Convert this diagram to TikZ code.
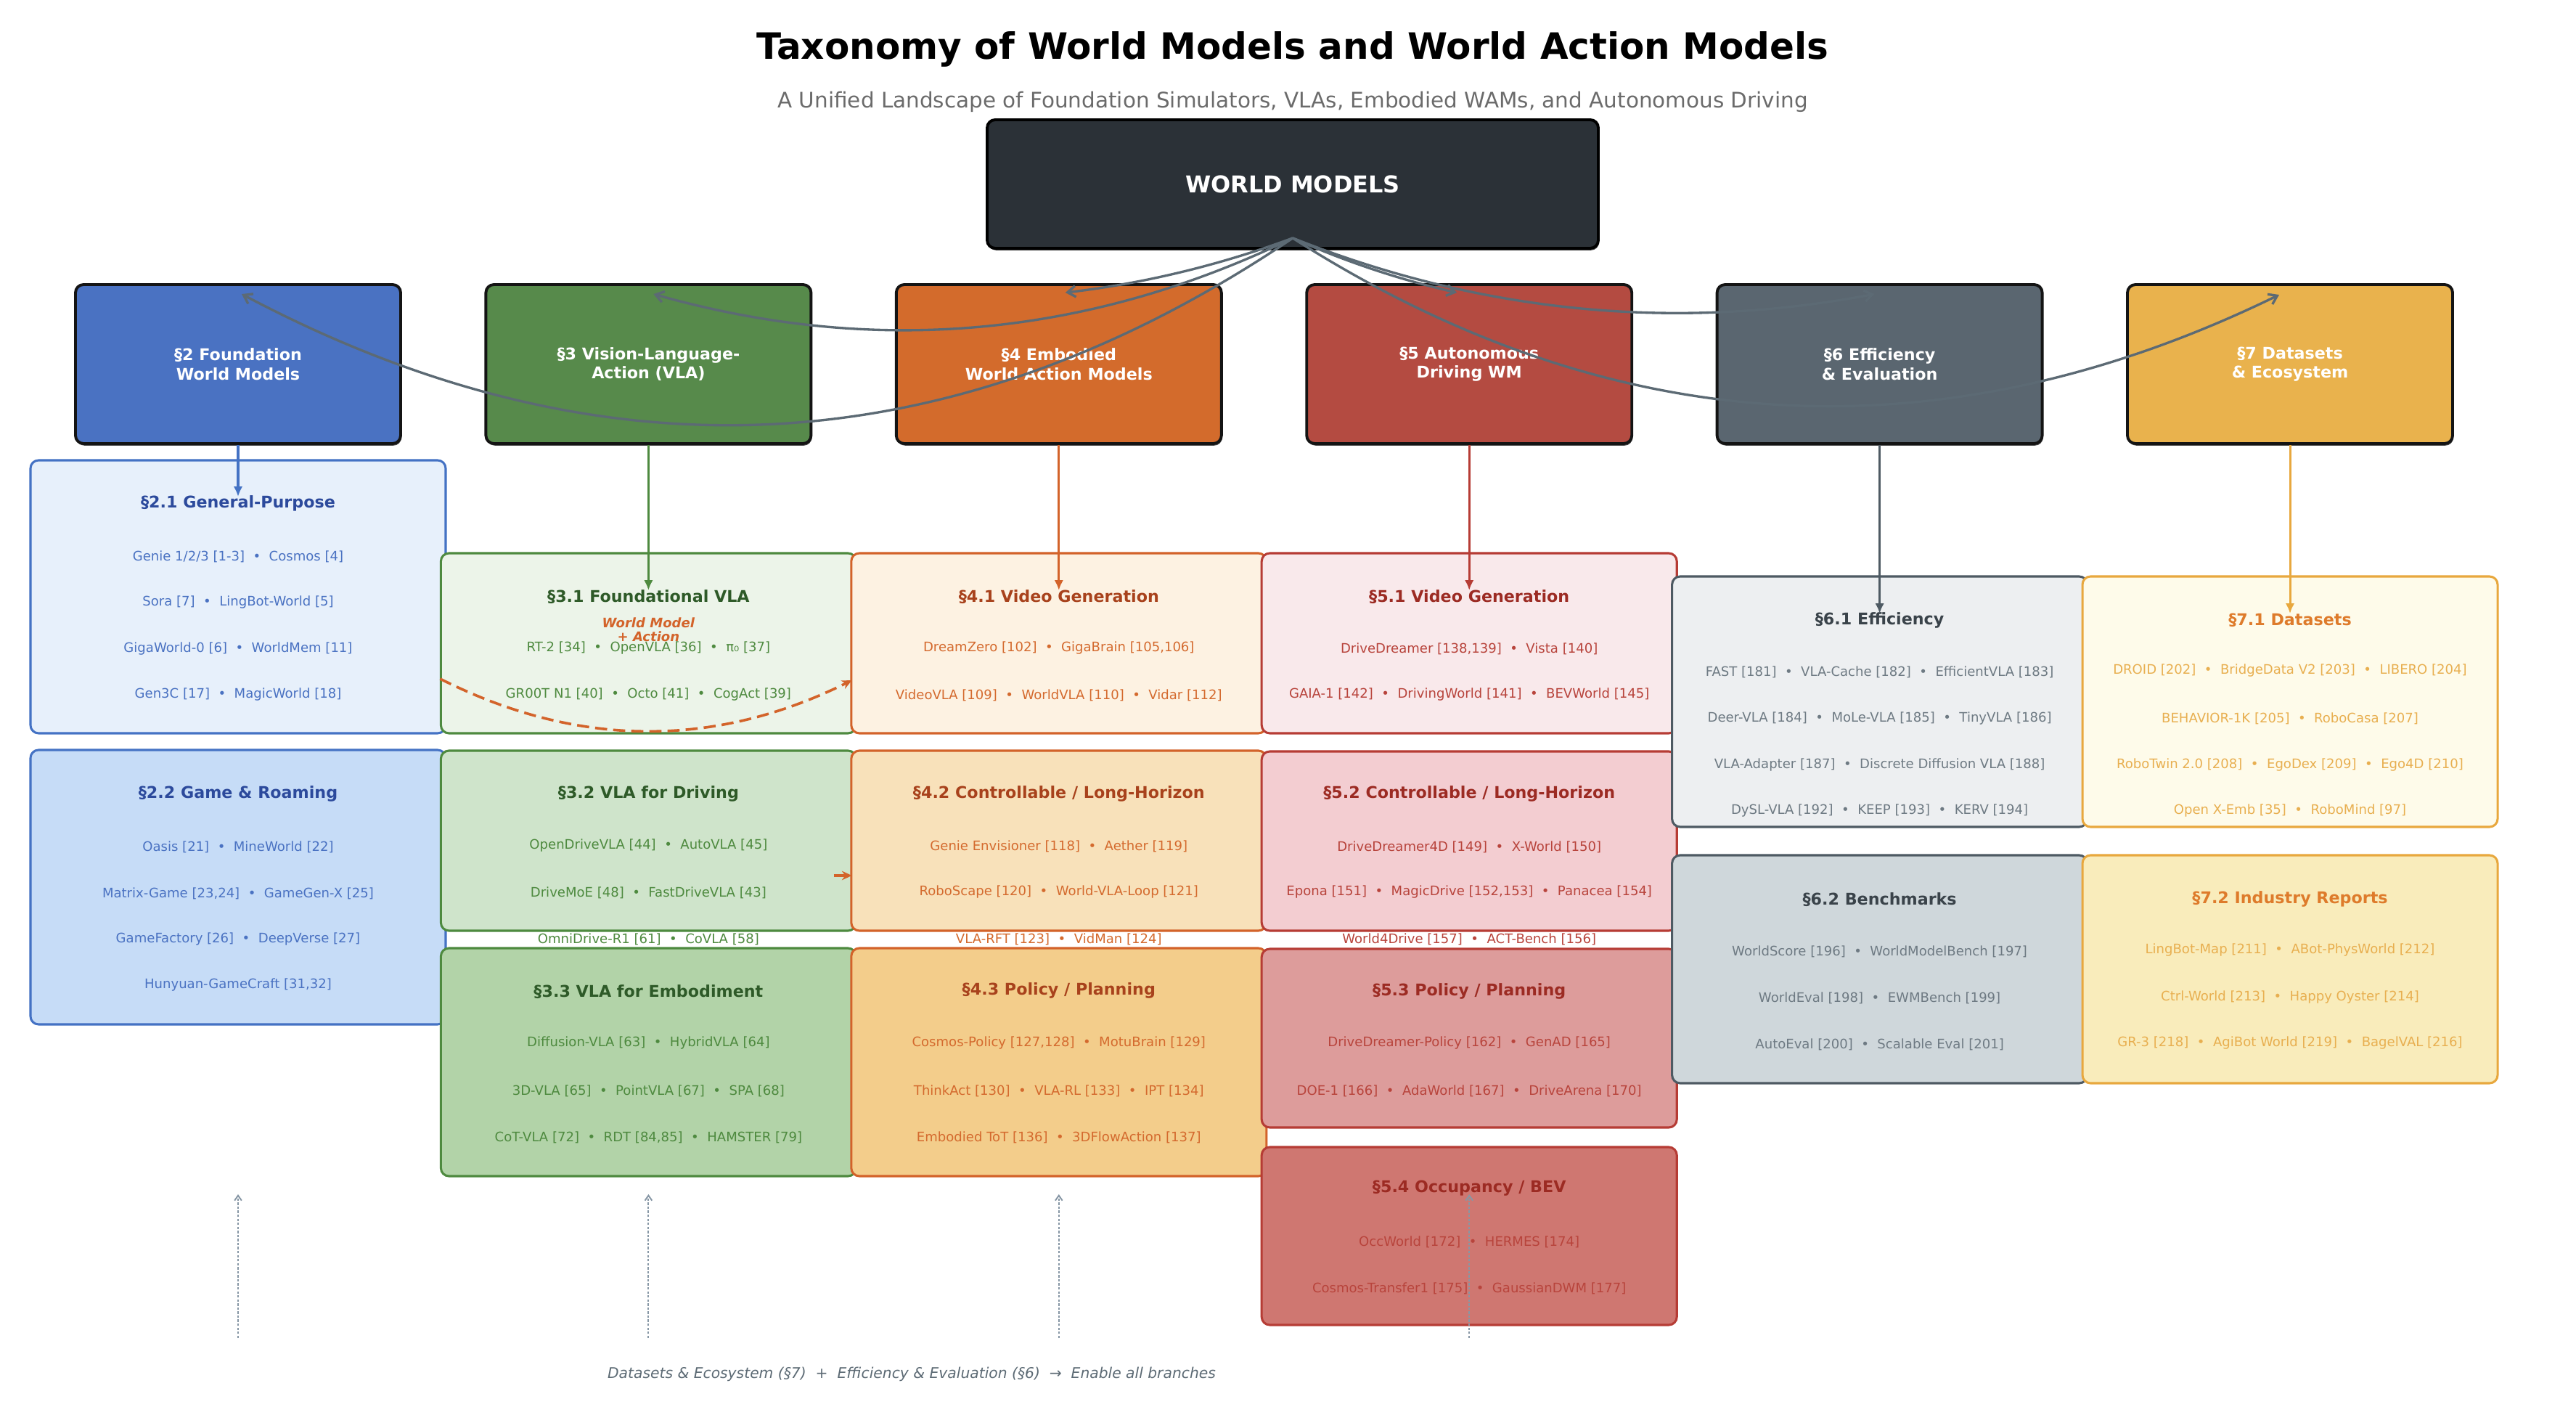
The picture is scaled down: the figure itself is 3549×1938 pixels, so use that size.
\documentclass[tikz,border=0pt]{standalone}
\usepackage{fontspec}
\setmainfont{DejaVu Sans}
\usetikzlibrary{arrows.meta,calc,shadows}
\definecolor{blueTop}{HTML}{4A72C2}\definecolor{blueBd}{HTML}{4472C4}
\definecolor{blueA}{HTML}{E7F0FB}\definecolor{blueB}{HTML}{C6DCF7}
\definecolor{blueT}{HTML}{2C4A9C}\definecolor{blueI}{HTML}{4A72C2}
\definecolor{grnTop}{HTML}{578A4B}\definecolor{grnBd}{HTML}{4E8A3F}
\definecolor{grnA}{HTML}{ECF4E9}\definecolor{grnB}{HTML}{CFE4CB}\definecolor{grnC}{HTML}{B2D3A8}
\definecolor{grnT}{HTML}{2E5A28}\definecolor{grnI}{HTML}{4E8A3F}
\definecolor{orgTop}{HTML}{D36B2C}\definecolor{orgBd}{HTML}{D3632A}
\definecolor{orgA}{HTML}{FDF2E2}\definecolor{orgB}{HTML}{F8E1BA}\definecolor{orgC}{HTML}{F3CD8B}
\definecolor{orgT}{HTML}{A8421C}\definecolor{orgI}{HTML}{D46A2E}
\definecolor{redTop}{HTML}{B44B41}\definecolor{redBd}{HTML}{B63C35}
\definecolor{redA}{HTML}{F9E9EB}\definecolor{redB}{HTML}{F3CDD1}\definecolor{redC}{HTML}{DD9C9B}\definecolor{redD}{HTML}{CF7771}
\definecolor{redT}{HTML}{9C2B23}\definecolor{redI}{HTML}{B8443C}
\definecolor{slTop}{HTML}{5A6670}\definecolor{slBd}{HTML}{4E5A63}
\definecolor{slA}{HTML}{EDEFF1}\definecolor{slB}{HTML}{CFD7DB}
\definecolor{slT}{HTML}{3A434A}\definecolor{slI}{HTML}{6E7A83}
\definecolor{gdTop}{HTML}{E9B24D}\definecolor{gdBd}{HTML}{E8A83E}
\definecolor{gdA}{HTML}{FEFBEA}\definecolor{gdB}{HTML}{F9ECBB}
\definecolor{gdT}{HTML}{DE7B2B}\definecolor{gdI}{HTML}{E8AF50}
\definecolor{wmFill}{HTML}{2B3137}
\definecolor{arrGrey}{HTML}{5C6A74}
\definecolor{subGrey}{HTML}{6B6B6B}
\definecolor{dashGrey}{HTML}{8797A5}
\newcommand{\sepdot}{\hspace{0.636em}•\hspace{0.636em}}
\newcommand{\mkbox}[6]{\node[subbox, fill=#5, draw=#6, minimum height={(#4-#3)*0.36pt}] (#1) at (#2,{(#3+#4)/2}) {};}
\newcommand{\itm}[5]{\node[sitem, text=#4] (#1) at (#2,#3) {#5};}
\newcommand{\ttl}[5]{\node[stitle, text=#4] (#1) at (#2,#3) {#5};}
\newcommand{\wmcurve}[3]{%
  \coordinate (m#1) at ($(src)!0.5!(#1)$);
  \coordinate (q#1) at ($(m#1)!#2!#3:(#1)$);
  \draw[wmline] (src) .. controls ($(src)!2/3!(q#1)$) and ($(#1)!2/3!(q#1)$) .. (#1);}
\def\cxa{328}\def\cxb{893.4}\def\cxc{1458.8}\def\cxd{2024.2}\def\cxe{2589.6}\def\cxf{3155}
\begin{document}
\begin{tikzpicture}[x=0.36pt,y=-0.36pt,
  topbox/.style={rounded corners=4pt, line width=1.4pt, draw=black!92, minimum width=448*0.36pt, minimum height=219*0.36pt, inner sep=0pt, text=white, font=\fontsize{8}{9.6}\selectfont\bfseries, align=center, drop shadow={shadow xshift=0.4pt, shadow yshift=-1pt, fill=black, opacity=0.7}},
  subbox/.style={rounded corners=4pt, line width=1.1pt, minimum width=572*0.36pt, inner sep=0pt, outer sep=0pt},
  stitle/.style={font=\fontsize{8}{9.6}\selectfont\bfseries, inner sep=0pt},
  sitem/.style={font=\fontsize{6.5}{7.8}\selectfont, inner sep=0pt},
  colarr/.style={line width=1.1pt, -{Latex[length=5pt,width=4.5pt]}},
  wmline/.style={draw=arrGrey, line width=1.2pt, -{Straight Barb[length=4pt,width=5.5pt]}},
  wmdash/.style={draw=orgBd, line width=1.3pt, dash pattern=on 6pt off 3pt, -{Stealth[length=5pt,width=4.5pt]}},
  botarr/.style={draw=dashGrey, line width=0.7pt, dash pattern=on 1.2pt off 0.8pt, -{Straight Barb[length=2.5pt,width=3.5pt]}}
]
\useasboundingbox (0,0) rectangle (3549,1938);
\fill[white] (0,0) rectangle (3549,1938);
% titles
\node[font=\fontsize{18}{21.6}\selectfont\bfseries, inner sep=0pt] (title) at (1781,68) {Taxonomy of World Models and World Action Models};
\node[font=\fontsize{10.6}{12.7}\selectfont, text=subGrey, inner sep=0pt] (subtitle) at (1781,140) {A Unified Landscape of Foundation Simulators, VLAs, Embodied WAMs, and Autonomous Driving};
% root
\node[rounded corners=4pt, line width=1.4pt, draw=black, fill=wmFill, minimum width=842*0.36pt, minimum height=177*0.36pt, inner sep=0pt, text=white, font=\fontsize{11.5}{13.8}\selectfont\bfseries, drop shadow={shadow xshift=0.4pt, shadow yshift=-1pt, fill=black, opacity=0.7}] (wm) at (1781,253.5) {WORLD MODELS};
% top boxes
\node[topbox, fill=blueTop] (b2) at (\cxa,501.5) {§2 Foundation\\World Models};
\node[topbox, fill=grnTop] (b3) at (\cxb,501.5) {§3 Vision-Language-\\Action (VLA)};
\node[topbox, fill=orgTop] (b4) at (\cxc,501.5) {§4 Embodied\\World Action Models};
\node[topbox, fill=redTop] (b5) at (\cxd,501.5) {§5 Autonomous\\Driving WM};
\node[topbox, fill=slTop] (b6) at (\cxe,501.5) {§6 Efficiency\\\& Evaluation};
\node[topbox, fill=gdTop] (b7) at (\cxf,501.5) {§7 Datasets\\\& Ecosystem};
% column 1
\mkbox{s21}{\cxa}{634}{1010}{blueA}{blueBd}
\ttl{t21}{\cxa}{693}{blueT}{§2.1 General-Purpose}
\itm{i21a}{\cxa}{767}{blueI}{Genie 1/2/3 [1-3]\sepdot Cosmos [4]}
\itm{i21b}{\cxa}{830}{blueI}{Sora [7]\sepdot LingBot-World [5]}
\itm{i21c}{\cxa}{894}{blueI}{GigaWorld-0 [6]\sepdot WorldMem [11]}
\itm{i21d}{\cxa}{957}{blueI}{Gen3C [17]\sepdot MagicWorld [18]}
\mkbox{s22}{\cxa}{1033}{1411}{blueB}{blueBd}
\ttl{t22}{\cxa}{1093}{blueT}{§2.2 Game \& Roaming}
\itm{i22a}{\cxa}{1167}{blueI}{Oasis [21]\sepdot MineWorld [22]}
\itm{i22b}{\cxa}{1231}{blueI}{Matrix-Game [23,24]\sepdot GameGen-X [25]}
\itm{i22c}{\cxa}{1294}{blueI}{GameFactory [26]\sepdot DeepVerse [27]}
\itm{i22d}{\cxa}{1357}{blueI}{Hunyuan-GameCraft [31,32]}
% column 2
\mkbox{s31}{\cxb}{762}{1010}{grnA}{grnBd}
\ttl{t31}{\cxb}{822}{grnT}{§3.1 Foundational VLA}
\node[font=\fontsize{6.5}{6.9}\selectfont\bfseries\itshape, text=orgBd, align=center, inner sep=0pt] (wmlbl) at (\cxb,867.5) {World Model\\+ Action};
\itm{i31a}{\cxb}{893}{grnI}{RT-2 [34]\sepdot OpenVLA [36]\sepdot π₀ [37]}
\itm{i31b}{\cxb}{957}{grnI}{GR00T N1 [40]\sepdot Octo [41]\sepdot CogAct [39]}
\mkbox{s32}{\cxb}{1034}{1282}{grnB}{grnBd}
\ttl{t32}{\cxb}{1093}{grnT}{§3.2 VLA for Driving}
\itm{i32a}{\cxb}{1165}{grnI}{OpenDriveVLA [44]\sepdot AutoVLA [45]}
\itm{i32b}{\cxb}{1230}{grnI}{DriveMoE [48]\sepdot FastDriveVLA [43]}
\itm{i32c}{\cxb}{1294}{grnI}{OmniDrive-R1 [61]\sepdot CoVLA [58]}
\mkbox{s33}{\cxb}{1306}{1620}{grnC}{grnBd}
\ttl{t33}{\cxb}{1366}{grnT}{§3.3 VLA for Embodiment}
\itm{i33a}{\cxb}{1437}{grnI}{Diffusion-VLA [63]\sepdot HybridVLA [64]}
\itm{i33b}{\cxb}{1503}{grnI}{3D-VLA [65]\sepdot PointVLA [67]\sepdot SPA [68]}
\itm{i33c}{\cxb}{1567}{grnI}{CoT-VLA [72]\sepdot RDT [84,85]\sepdot HAMSTER [79]}
% column 3
\mkbox{s41}{\cxc}{762}{1010}{orgA}{orgBd}
\ttl{t41}{\cxc}{822}{orgT}{§4.1 Video Generation}
\itm{i41a}{\cxc}{893}{orgI}{DreamZero [102]\sepdot GigaBrain [105,106]}
\itm{i41b}{\cxc}{958}{orgI}{VideoVLA [109]\sepdot WorldVLA [110]\sepdot Vidar [112]}
\mkbox{s42}{\cxc}{1034}{1282}{orgB}{orgBd}
\ttl{t42}{\cxc}{1093}{orgT}{§4.2 Controllable / Long-Horizon}
\itm{i42a}{\cxc}{1166}{orgI}{Genie Envisioner [118]\sepdot Aether [119]}
\itm{i42b}{\cxc}{1229}{orgI}{RoboScape [120]\sepdot World-VLA-Loop [121]}
\itm{i42c}{\cxc}{1294}{orgI}{VLA-RFT [123]\sepdot VidMan [124]}
\mkbox{s43}{\cxc}{1306}{1620}{orgC}{orgBd}
\ttl{t43}{\cxc}{1364}{orgT}{§4.3 Policy / Planning}
\itm{i43a}{\cxc}{1437}{orgI}{Cosmos-Policy [127,128]\sepdot MotuBrain [129]}
\itm{i43b}{\cxc}{1503}{orgI}{ThinkAct [130]\sepdot VLA-RL [133]\sepdot IPT [134]}
\itm{i43c}{\cxc}{1567}{orgI}{Embodied ToT [136]\sepdot 3DFlowAction [137]}
% column 4
\mkbox{s51}{\cxd}{762}{1010}{redA}{redBd}
\ttl{t51}{\cxd}{822}{redT}{§5.1 Video Generation}
\itm{i51a}{\cxd}{894}{redI}{DriveDreamer [138,139]\sepdot Vista [140]}
\itm{i51b}{\cxd}{957}{redI}{GAIA-1 [142]\sepdot DrivingWorld [141]\sepdot BEVWorld [145]}
\mkbox{s52}{\cxd}{1035}{1282}{redB}{redBd}
\ttl{t52}{\cxd}{1093}{redT}{§5.2 Controllable / Long-Horizon}
\itm{i52a}{\cxd}{1167}{redI}{DriveDreamer4D [149]\sepdot X-World [150]}
\itm{i52b}{\cxd}{1229}{redI}{Epona [151]\sepdot MagicDrive [152,153]\sepdot Panacea [154]}
\itm{i52c}{\cxd}{1294}{redI}{World4Drive [157]\sepdot ACT-Bench [156]}
\mkbox{s53}{\cxd}{1307}{1553}{redC}{redBd}
\ttl{t53}{\cxd}{1365}{redT}{§5.3 Policy / Planning}
\itm{i53a}{\cxd}{1437}{redI}{DriveDreamer-Policy [162]\sepdot GenAD [165]}
\itm{i53b}{\cxd}{1503}{redI}{DOE-1 [166]\sepdot AdaWorld [167]\sepdot DriveArena [170]}
\mkbox{s54}{\cxd}{1580}{1825}{redD}{redBd}
\ttl{t54}{\cxd}{1637}{redT}{§5.4 Occupancy / BEV}
\itm{i54a}{\cxd}{1711}{redI}{OccWorld [172]\sepdot HERMES [174]}
\itm{i54b}{\cxd}{1775}{redI}{Cosmos-Transfer1 [175]\sepdot GaussianDWM [177]}
% column 5
\mkbox{s61}{\cxe}{794}{1139}{slA}{slBd}
\ttl{t61}{\cxe}{854}{slT}{§6.1 Efficiency}
\itm{i61a}{\cxe}{926}{slI}{FAST [181]\sepdot VLA-Cache [182]\sepdot EfficientVLA [183]}
\itm{i61b}{\cxe}{990}{slI}{Deer-VLA [184]\sepdot MoLe-VLA [185]\sepdot TinyVLA [186]}
\itm{i61c}{\cxe}{1054}{slI}{VLA-Adapter [187]\sepdot Discrete Diffusion VLA [188]}
\itm{i61d}{\cxe}{1117}{slI}{DySL-VLA [192]\sepdot KEEP [193]\sepdot KERV [194]}
\mkbox{s62}{\cxe}{1178}{1492}{slB}{slBd}
\ttl{t62}{\cxe}{1239}{slT}{§6.2 Benchmarks}
\itm{i62a}{\cxe}{1311}{slI}{WorldScore [196]\sepdot WorldModelBench [197]}
\itm{i62b}{\cxe}{1375}{slI}{WorldEval [198]\sepdot EWMBench [199]}
\itm{i62c}{\cxe}{1439}{slI}{AutoEval [200]\sepdot Scalable Eval [201]}
% column 6
\mkbox{s71}{\cxf}{794}{1139}{gdA}{gdBd}
\ttl{t71}{\cxf}{854}{gdT}{§7.1 Datasets}
\itm{i71a}{\cxf}{924}{gdI}{DROID [202]\sepdot BridgeData V2 [203]\sepdot LIBERO [204]}
\itm{i71b}{\cxf}{990}{gdI}{BEHAVIOR-1K [205]\sepdot RoboCasa [207]}
\itm{i71c}{\cxf}{1054}{gdI}{RoboTwin 2.0 [208]\sepdot EgoDex [209]\sepdot Ego4D [210]}
\itm{i71d}{\cxf}{1117}{gdI}{Open X-Emb [35]\sepdot RoboMind [97]}
\mkbox{s72}{\cxf}{1178}{1492}{gdB}{gdBd}
\ttl{t72}{\cxf}{1238}{gdT}{§7.2 Industry Reports}
\itm{i72a}{\cxf}{1309}{gdI}{LingBot-Map [211]\sepdot ABot-PhysWorld [212]}
\itm{i72b}{\cxf}{1374}{gdI}{Ctrl-World [213]\sepdot Happy Oyster [214]}
\itm{i72c}{\cxf}{1437}{gdI}{GR-3 [218]\sepdot AgiBot World [219]\sepdot BagelVAL [216]}
% column arrows
\draw[colarr, draw=blueBd, fill=blueBd] (b2.south) -- ($(t21.center)+(0,-9)$);
\draw[colarr, draw=grnBd, fill=grnBd] (b3.south) -- ($(t31.center)+(0,-9)$);
\draw[colarr, draw=orgBd, fill=orgBd] (b4.south) -- ($(t41.center)+(0,-9)$);
\draw[colarr, draw=redBd, fill=redBd] (b5.south) -- ($(t51.center)+(0,-9)$);
\draw[colarr, draw=slBd, fill=slBd] (b6.south) -- ($(t61.center)+(0,-9)$);
\draw[colarr, draw=gdBd, fill=gdBd] (b7.south) -- ($(t71.center)+(0,-9)$);
% root curves
\coordinate (src) at ($(wm.south)+(0,-16)$);
\coordinate (t2) at ($(b2.north)+(5,15)$);
\coordinate (t3) at ($(b3.north)+(7,15)$);
\coordinate (t4) at ($(b4.north)+(9,13)$);
\coordinate (t5) at ($(b5.north)+(-17,13)$);
\coordinate (t6) at ($(b6.north)+(-7,15)$);
\coordinate (t7) at ($(b7.north)+(-15,16)$);
\wmcurve{t2}{0.6}{90}
\wmcurve{t3}{0.38}{90}
\wmcurve{t4}{0.12}{90}
\wmcurve{t5}{0.10}{-90}
\wmcurve{t6}{0.29}{-90}
\wmcurve{t7}{0.56}{-90}
% world model + action dashed link
\coordinate (d1) at ($(s31.west)+(-1,49)$);
\coordinate (d2) at ($(s41.west)+(1,51)$);
\coordinate (dm) at ($(d1)!0.5!(d2)$);
\coordinate (dq) at ($(dm)!0.5!-90:(d2)$);
\draw[wmdash] (d1) .. controls ($(d1)!2/3!(dq)$) and ($(d2)!2/3!(dq)$) .. (d2);
\coordinate (o1) at ($(s42.west)+(-24,48)$);
\coordinate (o2) at ($(s42.west)+(1,48)$);
\draw[draw=orgBd, line width=1.3pt, -{Stealth[length=5pt,width=4.5pt]}] (o1) -- (o2);
% bottom dashed arrows
\coordinate (ba1) at (\cxa,1843); \coordinate (ba1e) at (\cxa,1645);
\coordinate (ba2) at (\cxb,1843); \coordinate (ba2e) at (\cxb,1645);
\coordinate (ba3) at (\cxc,1843); \coordinate (ba3e) at (\cxc,1645);
\coordinate (ba4) at (\cxd,1843); \coordinate (ba4e) at (\cxd,1645);
\draw[botarr] (ba1) -- (ba1e);
\draw[botarr] (ba2) -- (ba2e);
\draw[botarr] (ba3) -- (ba3e);
\draw[botarr] (ba4) -- (ba4e);
\node[font=\fontsize{7.3}{8.8}\selectfont\itshape, text=arrGrey, inner sep=0pt] (foot) at (1256,1893) {Datasets \& Ecosystem (§7)\hspace{0.636em}+\hspace{0.636em}Efficiency \& Evaluation (§6)\hspace{0.636em}{\upshape →}\hspace{0.636em}Enable all branches};
\end{tikzpicture}
\end{document}
